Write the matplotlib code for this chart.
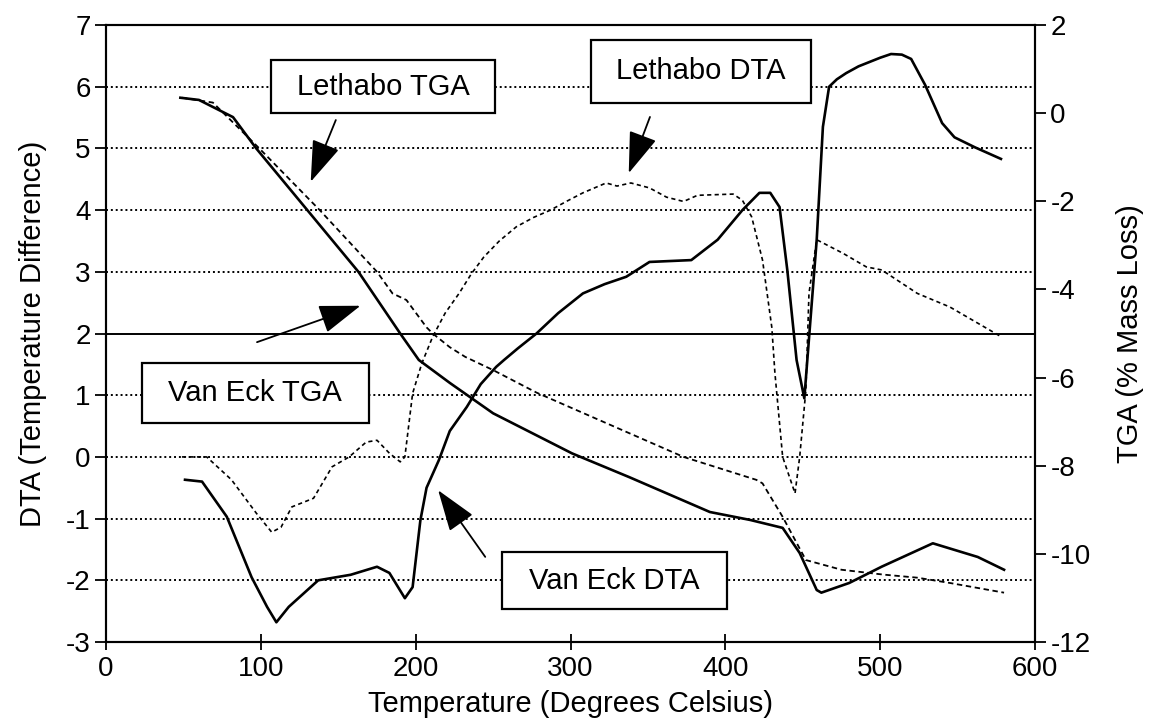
import matplotlib
matplotlib.use('Agg')
import matplotlib.pyplot as plt
from matplotlib.patches import Rectangle

plt.rcParams['font.family'] = ['Liberation Sans', 'DejaVu Sans']
plt.rcParams['axes.unicode_minus'] = False

# Van Eck DTA (left axis)
van_eck_dta_t = [51, 62, 78, 94, 104, 110, 118, 137, 158, 175, 183, 193, 198,
                 203, 207, 215, 222, 233, 242, 252, 257, 266, 278, 292, 308,
                 322, 336, 351, 378, 395, 411, 422, 429, 435, 440, 446, 451,
                 459, 463, 467, 472, 478, 486, 493, 500, 507, 514, 520, 529,
                 540, 548, 561, 578]
van_eck_dta = [-0.37, -0.4, -0.97, -1.95, -2.43, -2.68, -2.43, -2.0, -1.91,
               -1.78, -1.88, -2.29, -2.11, -1.03, -0.5, -0.05, 0.42, 0.81,
               1.18, 1.46, 1.57, 1.76, 2.0, 2.33, 2.65, 2.8, 2.92, 3.16,
               3.19, 3.52, 4.0, 4.28, 4.28, 4.05, 3.03, 1.57, 0.95, 3.52,
               5.35, 6.0, 6.12, 6.22, 6.33, 6.4, 6.47, 6.53, 6.52, 6.45,
               6.03, 5.41, 5.18, 5.02, 4.83]

# Lethabo DTA (left axis)
lethabo_dta_t = [49, 65, 81, 97, 107, 113, 120, 134, 146, 157, 168, 175, 183,
                 190, 193, 198, 204, 211, 219, 228, 236, 244, 254, 265, 276,
                 287, 298, 308, 323, 330, 339, 351, 362, 373, 382, 405, 411,
                 417, 424, 430, 432, 437, 445, 448, 452, 454, 459, 476, 491,
                 501, 524, 545, 578]
lethabo_dta = [0.0, 0.0, -0.37, -0.91, -1.22, -1.14, -0.81, -0.67, -0.16,
               0.0, 0.24, 0.27, 0.06, -0.08, 0.0, 1.03, 1.52, 1.95, 2.33,
               2.65, 2.97, 3.24, 3.5, 3.73, 3.88, 4.0, 4.15, 4.28, 4.44,
               4.39, 4.44, 4.36, 4.21, 4.14, 4.24, 4.26, 4.16, 3.89, 3.19,
               2.1, 1.36, 0.0, -0.59, 0.0, 1.08, 2.65, 3.52, 3.3, 3.08,
               3.03, 2.65, 2.43, 1.95]

# Van Eck TGA (right axis, % mass loss)
van_eck_tga_t = [48, 60, 82, 97, 130, 163, 190, 202, 222, 250, 301, 338, 390,
                 416, 437, 448, 459, 462, 480, 501, 534, 563, 580]
van_eck_tga = [0.35, 0.3, -0.09, -0.8, -2.2, -3.6, -5.0, -5.6, -6.12, -6.81,
               -7.72, -8.26, -9.05, -9.23, -9.41, -9.98, -10.82, -10.88,
               -10.66, -10.29, -9.76, -10.07, -10.36]

# Lethabo TGA (right axis, % mass loss)
lethabo_tga_t = [49, 69, 99, 138, 175, 185, 194, 207, 211, 222, 232, 250, 278,
                 304, 373, 420, 424, 437, 452, 475, 502, 524, 545, 580]
lethabo_tga = [0.35, 0.24, -0.8, -2.2, -3.6, -4.09, -4.24, -4.86, -5.0, -5.31,
               -5.53, -5.83, -6.34, -6.74, -7.8, -8.32, -8.4, -9.16, -10.14,
               -10.36, -10.47, -10.54, -10.66, -10.88]

fig = plt.figure(figsize=(11.49, 7.23), dpi=100)
ax = fig.add_axes([0.0923, 0.112, 0.8085, 0.8534])
ax2 = ax.twinx()

# horizontal grid: dotted, with the line at 2 drawn solid
for yv in [6, 5, 4, 3, 1, 0, -1, -2]:
    ax.axhline(yv, color='black', lw=1.4, ls=(0, (1, 1.5)), zorder=1)
ax.axhline(2, color='black', lw=1.4, zorder=1)

ax.plot(van_eck_dta_t, van_eck_dta, color='black', lw=1.9, zorder=3)
ax.plot(lethabo_dta_t, lethabo_dta, color='black', lw=1.2,
        ls=(0, (2.5, 2)), zorder=3)
ax2.plot(van_eck_tga_t, van_eck_tga, color='black', lw=1.9)
ax2.plot(lethabo_tga_t, lethabo_tga, color='black', lw=1.3, ls=(0, (3, 2)))

ax.set_xlim(0, 600)
ax.set_ylim(-3, 7)
ax2.set_ylim(-12, 2)
ax.set_xticks(range(0, 601, 100))
ax.set_yticks(range(-3, 8))
ax2.set_yticks(range(-12, 3, 2))

ax.tick_params(axis='x', direction='inout', length=12, width=1.3,
               labelsize=20, pad=4)
ax.tick_params(axis='y', direction='out', length=8, width=1.3,
               labelsize=20, pad=3)
ax2.tick_params(axis='y', direction='out', length=8, width=1.3,
                labelsize=20, pad=3)
for a in (ax, ax2):
    for s in a.spines.values():
        s.set_linewidth(1.5)

ax.set_xlabel('Temperature (Degrees Celsius)', fontsize=21, labelpad=6)
ax.set_ylabel('DTA (Temperature Difference)', fontsize=21, labelpad=14)
ax2.set_ylabel('TGA (% Mass Loss)', fontsize=21, labelpad=18)

# labelled boxes: (text, x0, x1, y0, y1) in DTA axis units
boxes = [
    ('Lethabo TGA', 106.7, 251.4, 5.57, 6.43),
    ('Lethabo DTA', 312.9, 455.0, 5.74, 6.76),
    ('Van Eck TGA', 23.0, 169.6, 0.55, 1.52),
    ('Van Eck DTA', 255.7, 401.0, -2.47, -1.54),
]
for label, x0, x1, y0, y1 in boxes:
    ax.add_patch(Rectangle((x0, y0), x1 - x0, y1 - y0, fc='white',
                           ec='black', lw=1.6, zorder=5))
    ax.text((x0 + x1) / 2, (y0 + y1) / 2, label, ha='center', va='center',
            fontsize=21, zorder=6)

# arrows: (tail, head)
arrows = [
    ((148.4, 5.46), (132.2, 4.46)),
    ((351.3, 5.51), (337.6, 4.6)),
    ((97.5, 1.86), (164.3, 2.45)),
    ((244.9, -1.62), (214.5, -0.54)),
]
for tail, head in arrows:
    ax.annotate('', xy=head, xytext=tail, zorder=6,
                arrowprops=dict(arrowstyle='-|>,head_length=1.3,head_width=0.45',
                                mutation_scale=20, color='black', lw=1.3,
                                shrinkA=0, shrinkB=0))

fig.savefig('out.png', dpi=100)
